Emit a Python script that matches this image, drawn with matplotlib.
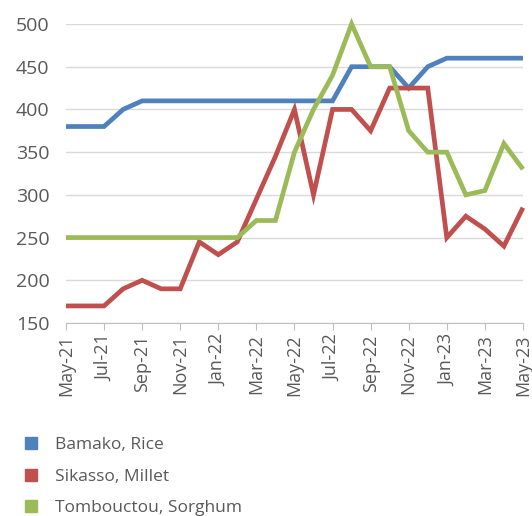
import matplotlib
matplotlib.use("Agg")
import matplotlib.pyplot as plt
from matplotlib.lines import Line2D

# Données (prix mensuels, mai 2021 - mai 2023)
months = ["May-21", "Jun-21", "Jul-21", "Aug-21", "Sep-21", "Oct-21", "Nov-21", "Dec-21",
          "Jan-22", "Feb-22", "Mar-22", "Apr-22", "May-22", "Jun-22", "Jul-22", "Aug-22",
          "Sep-22", "Oct-22", "Nov-22", "Dec-22", "Jan-23", "Feb-23", "Mar-23", "Apr-23",
          "May-23"]
bamako_rice = [380, 380, 380, 400, 410, 410, 410, 410, 410, 410, 410, 410, 410,
               410, 410, 450, 450, 450, 425, 450, 460, 460, 460, 460, 460]
sikasso_millet = [170, 170, 170, 190, 200, 190, 190, 245, 230, 245, 295, 345, 400,
                  300, 400, 400, 375, 425, 425, 425, 250, 275, 260, 240, 285]
tombouctou_sorghum = [250, 250, 250, 250, 250, 250, 250, 250, 250, 250, 270, 270, 350,
                      400, 440, 500, 450, 450, 375, 350, 350, 300, 305, 360, 330]
series_labels = ["Bamako, Rice", "Sikasso, Millet", "Tombouctou, Sorghum"]
series_colors = ["#4F81BD", "#C0504D", "#9BBB59"]

plt.rcParams['font.family'] = ['Open Sans', 'DejaVu Sans']
text_color = "#595959"

fig = plt.figure(figsize=(5.32, 5.16), dpi=100)
ax = fig.add_axes([0.124, 0.374, 0.859, 0.5795])

x = list(range(len(months)))
for values, color in zip([bamako_rice, sikasso_millet, tombouctou_sorghum], series_colors):
    ax.plot(x, values, color=color, linewidth=3.4, clip_on=False,
            solid_joinstyle='miter', solid_capstyle='butt')

ax.set_xlim(0, len(months) - 1)
ax.set_ylim(150, 500)
ax.set_yticks(range(150, 501, 50))
ax.set_xticks(x[::2])
ax.set_xticklabels(months[::2], rotation=90)

ax.grid(axis='y', color='#D9D9D9', linewidth=1)
ax.set_axisbelow(True)
for side in ['left', 'right', 'top']:
    ax.spines[side].set_visible(False)
ax.spines['bottom'].set_color('#BFBFBF')
ax.tick_params(axis='y', length=0, labelsize=14, colors=text_color, pad=12)
ax.tick_params(axis='x', length=5, color='#BFBFBF', labelsize=13,
               labelcolor=text_color, pad=3)

# Légende sous le graphique
handles = [Line2D([], [], marker='s', linestyle='none', markersize=9, color=c)
           for c in series_colors]
fig.legend(handles, series_labels, loc='upper left', bbox_to_anchor=(0.029, 0.166),
           frameon=False, fontsize=12.5, labelcolor=text_color, handlelength=1.0,
           handletextpad=0.9, labelspacing=0.87, borderaxespad=0)

fig.savefig("out.png", dpi=100)
